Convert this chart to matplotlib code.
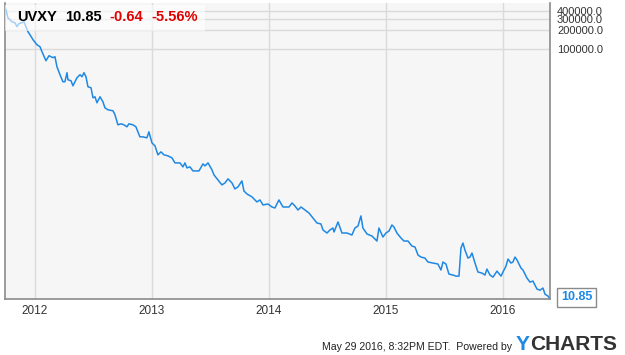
import matplotlib.pyplot as plt
from matplotlib.ticker import FixedLocator, FuncFormatter, NullLocator

## UVXY price history (split adjusted). Dates in decimal years.
years = [
    2011.752, 2011.769, 2011.803, 2011.829, 2011.846, 2011.863, 2011.889, 2011.906,
    2011.923, 2011.940, 2011.957, 2011.983, 2012.017, 2012.043, 2012.060, 2012.094,
    2012.120, 2012.154, 2012.171, 2012.188, 2012.214, 2012.239, 2012.256, 2012.274,
    2012.282, 2012.308, 2012.325, 2012.359, 2012.385, 2012.402, 2012.419, 2012.436,
    2012.453, 2012.479, 2012.496, 2012.513, 2012.530, 2012.556, 2012.581, 2012.598,
    2012.624, 2012.667, 2012.684, 2012.709, 2012.735, 2012.761, 2012.786, 2012.803,
    2012.838, 2012.863, 2012.897, 2012.923, 2012.957, 2012.974, 2013.000, 2013.026,
    2013.051, 2013.077, 2013.103, 2013.137, 2013.171, 2013.197, 2013.239, 2013.265,
    2013.282, 2013.299, 2013.325, 2013.350, 2013.402, 2013.436, 2013.453, 2013.479,
    2013.513, 2013.530, 2013.564, 2013.598, 2013.624, 2013.650, 2013.684, 2013.709,
    2013.735, 2013.769, 2013.786, 2013.812, 2013.855, 2013.897, 2013.923, 2013.949,
    2013.991, 2014.026, 2014.051, 2014.085, 2014.120, 2014.171, 2014.197, 2014.222,
    2014.248, 2014.274, 2014.308, 2014.342, 2014.376, 2014.410, 2014.444, 2014.462,
    2014.496, 2014.521, 2014.547, 2014.556, 2014.590, 2014.624, 2014.667, 2014.709,
    2014.735, 2014.761, 2014.786, 2014.803, 2014.838, 2014.880, 2014.923, 2014.940,
    2014.974, 2015.000, 2015.026, 2015.051, 2015.068, 2015.094, 2015.128, 2015.154,
    2015.188, 2015.222, 2015.248, 2015.274, 2015.299, 2015.333, 2015.359, 2015.402,
    2015.444, 2015.470, 2015.487, 2015.513, 2015.538, 2015.573, 2015.598, 2015.624,
    2015.641, 2015.658, 2015.675, 2015.701, 2015.718, 2015.735, 2015.761, 2015.786,
    2015.821, 2015.846, 2015.863, 2015.889, 2015.915, 2015.949, 2015.983, 2016.000,
    2016.026, 2016.043, 2016.068, 2016.085, 2016.103, 2016.120, 2016.154, 2016.171,
    2016.205, 2016.231, 2016.256, 2016.291, 2016.316, 2016.342, 2016.359, 2016.385,
    2016.402,
]
prices = [
    416000, 310000, 268000, 258500, 223500, 249300, 258500, 268000,
    223500, 186100, 166900, 139000, 115700, 107600, 89650, 64500,
    77400, 71970, 74650, 51800, 38670, 29940, 29940, 41590,
    32200, 31050, 25860, 34650, 38670, 35940, 41590, 35940,
    24930, 24040, 16680, 17300, 13900, 17300, 14410, 11570,
    10760, 10370, 8965, 6220, 6450, 6220, 5780, 6450,
    6220, 5780, 4010, 4010, 3866, 4815, 3220, 2886,
    2078, 2318, 2078, 2003, 1861, 1550, 1550, 1340,
    1550, 1292, 1340, 1157, 1157, 1495, 1390, 1550,
    1201, 1000, 833, 694, 746, 864, 746, 600,
    645, 803, 557, 499, 448, 373, 401, 334,
    346, 310, 299, 401, 310, 310, 359, 322,
    278, 310, 278, 249, 208, 173, 167, 134,
    120, 134, 144, 124.5, 179.5, 120, 120, 111.6,
    144, 155, 224, 144, 115.7, 107.6, 89.6, 144,
    103.7, 120, 129, 161, 149.5, 120, 100, 89.6,
    89.6, 74.6, 72.0, 53.7, 49.9, 48.1, 41.6, 40.1,
    38.7, 31.1, 41.6, 38.7, 26.8, 25.9, 24.9, 24.9,
    69.4, 83.3, 64.5, 48.1, 49.9, 57.8, 40.1, 28.9,
    27.8, 25.9, 32.2, 25.9, 24.0, 29.9, 24.9, 28.9,
    35.9, 46.4, 40.1, 41.6, 49.9, 44.8, 33.4, 31.1,
    23.2, 20.0, 20.8, 15.5, 14.9, 16.1, 12.9, 12.0,
    10.85,
]

ticker = "UVXY"
last_price = "10.85"
change = "-0.64"
change_pct = "-5.56%"
year_ticks = [2012, 2013, 2014, 2015, 2016]
price_ticks = [100000, 200000, 300000, 400000]
footer = "May 29 2016, 8:32PM EDT.  Powered by"

BLUE = "#1e88e5"
plt.rcParams["font.family"] = ["Liberation Sans", "DejaVu Sans"]

fig = plt.figure(figsize=(6.25, 3.55), dpi=100)
ax = fig.add_axes([5 / 625, 1 - 299 / 355, 545 / 625, 296 / 355])
ax.set_facecolor("#f6f6f6")

ax.plot(years, prices, color=BLUE, lw=1.1, solid_joinstyle="round")

ax.set_yscale("log")
ax.set_ylim(10.8, 530000)
ax.set_xlim(2011.744, 2016.402)

ax.xaxis.set_major_locator(FixedLocator(year_ticks))
ax.xaxis.set_major_formatter(FuncFormatter(lambda v, p: f"{int(v)}"))
ax.yaxis.set_major_locator(FixedLocator(price_ticks))
ax.yaxis.set_minor_locator(NullLocator())
ax.yaxis.set_major_formatter(FuncFormatter(lambda v, p: f"{v:.1f}"))
ax.yaxis.tick_right()
ax.tick_params(axis="both", length=0, labelsize=8.5, colors="#333333")
ax.tick_params(axis="y", labelsize=8, pad=5)
ax.tick_params(axis="x", pad=4)
ax.grid(True, color="#dadada", lw=1)
ax.set_axisbelow(True)

for side in ["left", "bottom", "right"]:
    ax.spines[side].set_color("#8a8a8a")
    ax.spines[side].set_linewidth(1.2)
ax.spines["top"].set_visible(False)

# header with ticker and quote
fig.patches.append(plt.Rectangle((5 / 625, 1 - 31 / 355), 200 / 625, 26 / 355,
                                 transform=fig.transFigure, fc="white", ec="none", alpha=0.6))
hy = 1 - 17 / 355
fig.text(17 / 625, hy, ticker, fontsize=10.5, fontweight="bold", va="center")
fig.text(65 / 625, hy, last_price, fontsize=10.5, fontweight="bold", va="center")
fig.text(109 / 625, hy, change, fontsize=10.5, fontweight="bold", va="center", color="#e00000")
fig.text(151 / 625, hy, change_pct, fontsize=10.5, fontweight="bold", va="center", color="#e00000")

# last value callout
ax.annotate(last_price, xy=(years[-1], prices[-1]), xytext=(8, 1), textcoords="offset points",
            fontsize=9, fontweight="bold", color=BLUE, va="center", ha="left",
            bbox=dict(boxstyle="square,pad=0.3", fc="white", ec="#8a8a8a", lw=1),
            annotation_clip=False)

# footer + logo
fig.text(512 / 625, 1 - 347 / 355, footer, fontsize=7.6, ha="right", va="center", color="#222222")
logo_y = fig.text(516 / 625, 1 - 345 / 355, "Y", fontsize=15, fontweight="bold",
                  ha="left", va="center", color=BLUE)
ax.annotate("CHARTS", xy=(1.0, 0.5), xycoords=logo_y, fontsize=15, fontweight="bold",
            ha="left", va="center", color="#333333", annotation_clip=False)

fig.savefig("out.png", dpi=100)
